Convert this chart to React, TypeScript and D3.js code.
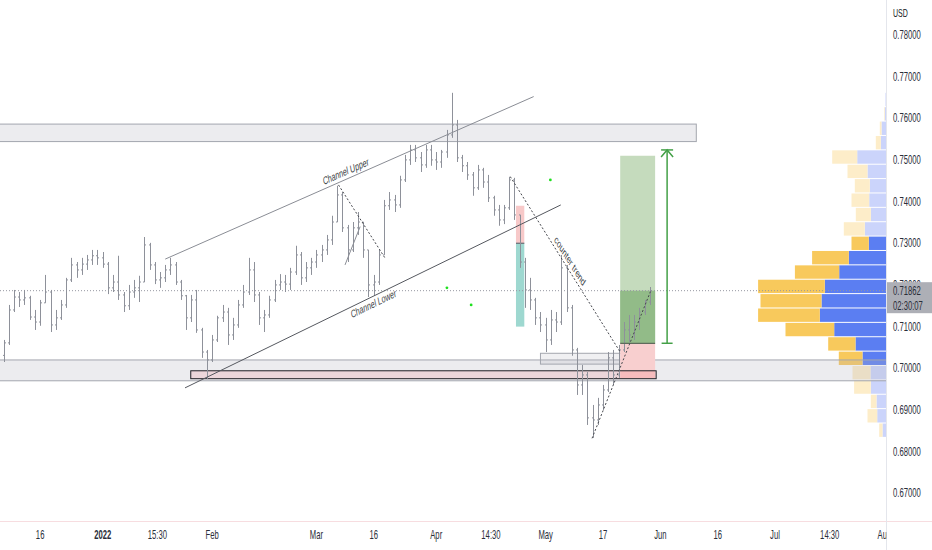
import React from 'react';
import * as d3 from 'd3';

// ---------- data ----------
const firstBar = -19; // trading-day index (0 = 3 Jan 2022)
const closes = [
  0.7061, 0.7140, 0.7171, 0.7164, 0.7169, 0.7123, 0.7111, 0.7157, 0.7183, 0.7104,
  0.7121, 0.7152, 0.7212, 0.7248, 0.7236, 0.7250, 0.7260, 0.7270, 0.7265, 0.7250,
  0.7193, 0.7207, 0.7176, 0.7150, 0.7183, 0.7193, 0.7207, 0.7296, 0.7248, 0.7212,
  0.7217, 0.7236, 0.7248, 0.7207, 0.7174, 0.7121, 0.7164, 0.7092, 0.7039, 0.7020,
  0.7068, 0.7121, 0.7135, 0.7080, 0.7104, 0.7152, 0.7183, 0.7236, 0.7176, 0.7121,
  0.7128, 0.7164, 0.7200, 0.7207, 0.7202, 0.7231, 0.7272, 0.7217, 0.7241, 0.7255,
  0.7272, 0.7284, 0.7308, 0.7351, 0.7416, 0.7337, 0.7284, 0.7337, 0.7351, 0.7284,
  0.7200, 0.7207, 0.7272, 0.7390, 0.7404, 0.7392, 0.7452, 0.7500, 0.7524, 0.7505,
  0.7488, 0.7524, 0.7500, 0.7495, 0.7519, 0.7560, 0.7584, 0.7505, 0.7486, 0.7464,
  0.7433, 0.7476, 0.7447, 0.7409, 0.7380, 0.7356, 0.7385, 0.7452, 0.7368, 0.7255,
  0.7188, 0.7164, 0.7121, 0.7104, 0.7068, 0.7116, 0.7111, 0.7241, 0.7145, 0.7044,
  0.6960, 0.6984, 0.6881, 0.6876, 0.6912, 0.6948, 0.7025, 0.6984, 0.7044, 0.7092,
  0.7080, 0.7111, 0.7135, 0.7159, 0.7186,
];
const highs = [
  0.7068, 0.7152, 0.7188, 0.7183, 0.7188, 0.7174, 0.7140, 0.7164, 0.7224, 0.7188,
  0.7140, 0.7164, 0.7217, 0.7265, 0.7255, 0.7265, 0.7272, 0.7284, 0.7284, 0.7279,
  0.7255, 0.7224, 0.7270, 0.7183, 0.7200, 0.7212, 0.7222, 0.7315, 0.7301, 0.7255,
  0.7231, 0.7248, 0.7265, 0.7255, 0.7212, 0.7176, 0.7176, 0.7188, 0.7097, 0.7044,
  0.7080, 0.7126, 0.7152, 0.7145, 0.7121, 0.7164, 0.7200, 0.7265, 0.7255, 0.7183,
  0.7140, 0.7174, 0.7212, 0.7226, 0.7224, 0.7241, 0.7294, 0.7279, 0.7255, 0.7265,
  0.7284, 0.7296, 0.7320, 0.7366, 0.7438, 0.7423, 0.7344, 0.7351, 0.7375, 0.7344,
  0.7284, 0.7224, 0.7284, 0.7404, 0.7423, 0.7416, 0.7462, 0.7512, 0.7536, 0.7536,
  0.7519, 0.7536, 0.7536, 0.7519, 0.7524, 0.7572, 0.7661, 0.7596, 0.7512, 0.7495,
  0.7471, 0.7488, 0.7481, 0.7464, 0.7414, 0.7392, 0.7392, 0.7459, 0.7457, 0.7368,
  0.7265, 0.7217, 0.7169, 0.7135, 0.7121, 0.7140, 0.7135, 0.7272, 0.7248, 0.7152,
  0.7049, 0.7008, 0.6991, 0.6912, 0.6929, 0.6960, 0.7039, 0.7044, 0.7056, 0.7111,
  0.7128, 0.7128, 0.7145, 0.7164, 0.7195,
];
const lows = [
  0.7015, 0.7056, 0.7135, 0.7147, 0.7152, 0.7116, 0.7092, 0.7102, 0.7164, 0.7087,
  0.7092, 0.7116, 0.7145, 0.7207, 0.7217, 0.7224, 0.7236, 0.7248, 0.7248, 0.7241,
  0.7178, 0.7183, 0.7164, 0.7135, 0.7140, 0.7169, 0.7159, 0.7207, 0.7236, 0.7202,
  0.7193, 0.7207, 0.7224, 0.7200, 0.7164, 0.7092, 0.7111, 0.7085, 0.7025, 0.6974,
  0.7015, 0.7063, 0.7111, 0.7056, 0.7068, 0.7097, 0.7145, 0.7176, 0.7159, 0.7104,
  0.7087, 0.7121, 0.7159, 0.7188, 0.7183, 0.7188, 0.7224, 0.7200, 0.7207, 0.7224,
  0.7241, 0.7255, 0.7272, 0.7296, 0.7356, 0.7327, 0.7255, 0.7279, 0.7320, 0.7265,
  0.7171, 0.7174, 0.7200, 0.7272, 0.7380, 0.7375, 0.7385, 0.7447, 0.7488, 0.7495,
  0.7471, 0.7481, 0.7486, 0.7476, 0.7481, 0.7505, 0.7553, 0.7495, 0.7471, 0.7452,
  0.7414, 0.7428, 0.7433, 0.7399, 0.7366, 0.7342, 0.7346, 0.7380, 0.7356, 0.7241,
  0.7145, 0.7140, 0.7104, 0.7087, 0.7039, 0.7056, 0.7087, 0.7104, 0.7135, 0.7030,
  0.6936, 0.6936, 0.6864, 0.6833, 0.6864, 0.6900, 0.6943, 0.6960, 0.6977, 0.7039,
  0.7063, 0.7068, 0.7092, 0.7128, 0.7152,
];
const lastPrice = 0.71862;
const lastPriceLabel = '0.71862';
const countdownLabel = '02:30:07';

const priceTicks = [0.67, 0.68, 0.69, 0.70, 0.71, 0.72, 0.73, 0.74, 0.75, 0.76, 0.77, 0.78];
const timeTickLabels = ['16', '2022', '15:30', 'Feb', 'Mar', '16', 'Apr', '14:30', 'May', '17', 'Jun', '16', 'Jul', '14:30', 'Aug'];
const timeTickIndex = [-12, 0, 10.5, 21, 41, 52, 64, 74.5, 85, 96, 107, 118, 129, 139.5, 150];

// volume profile (top row first), 24 rows between profileLow and profileHigh
const profileHigh = 0.7661;
const profileLow = 0.6833;
const vpUp = [10, 17, 50, 57, 293, 190, 167, 173, 157, 217, 177, 377, 473, 617, 650, 667, 523, 310, 240, 160, 157, 100, 93, 40];
const vpDown = [0, 7, 17, 50, 250, 200, 150, 177, 150, 210, 173, 367, 443, 667, 610, 617, 487, 273, 237, 180, 167, 57, 97, 33];
const valueAreaRows = [10, 18]; // inclusive

// drawings: [index, price]
const channelUpper = [[12.0, 0.7262], [82.7, 0.7652]];
const channelLower = [[15.8, 0.6953], [87.9, 0.7392]];
const dottedTrend1 = [[45.25, 0.7440], [54.2, 0.7264]];
const solidTrend1 = [[46.5, 0.7248], [49.4, 0.7340]];
const counterTrend = [[78.2, 0.7460], [99.3, 0.7039]];
const dottedTrend2 = [[93.9, 0.6832], [105.1, 0.7184]];

// zones: [startIndex, endIndex, topPrice, bottomPrice]
const zoneTop = [-20, 113.9, 0.7586, 0.7544];
const zoneBottom = [-20, 151, 0.7020, 0.6970];
const blackBox = [16.9, 106.2, 0.6994, 0.6975];
const smallBox = [84.0, 101.2, 0.7036, 0.7010];

// short position tool: [start, end, stop, entry, target]
const shortPos = [79.3, 80.9, 0.7390, 0.7300, 0.7100];
// long position tool: [start, end, target, entry, stop]
const longPos = [99.3, 106.0, 0.7510, 0.7060, 0.6976];
// price-range measure: [index, fromPrice, toPrice]
const measure = [108.3, 0.7060, 0.7524];
// dots [index, price]
const greenDots = [[85.9, 0.7452], [66.05, 0.7193], [70.7, 0.7152]];

// ---------- layout ----------
const W = 932;
const H = 550;
const PLOT_R = 886.5;
const TIME_AXIS_Y = 521.5;
const SX = 0.64; // horizontal squeeze of text

const x = d3.scaleLinear().domain([-19.7, 150.3]).range([0, 886]);
const y = d3.scaleLinear().domain([0.67, 0.78]).range([493.3, 34.9]);
const vw = d3.scaleLinear().domain([0, 1284]).range([0, 128.4]);

const FONT = '"Liberation Sans", Arial, sans-serif';

function SText(props: any) {
  const { x: tx, y: ty, anchor = 'start', size = 12, fill = '#131722', weight = 'normal', children } = props;
  return (
    <text
      transform={`translate(${tx},${ty}) scale(${SX},1)`}
      textAnchor={anchor}
      fontSize={size}
      fontFamily={FONT}
      fill={fill}
      fontWeight={weight}
      dominantBaseline="central"
    >
      {children}
    </text>
  );
}

function lineAngle(seg: number[][]) {
  const dx = (x(seg[1][0]) - x(seg[0][0])) / SX;
  const dy = y(seg[1][1]) - y(seg[0][1]);
  return (Math.atan2(dy, dx) * 180) / Math.PI;
}
function pointOn(seg: number[][], idx: number) {
  const t = (idx - seg[0][0]) / (seg[1][0] - seg[0][0]);
  const p = seg[0][1] + t * (seg[1][1] - seg[0][1]);
  return [x(idx), y(p)];
}

function RotLabel({ seg, idx, text, dy, size }: any) {
  const [px, py] = pointOn(seg, idx);
  const a = lineAngle(seg);
  return (
    <text
      transform={`translate(${px},${py}) scale(${SX},1) rotate(${a})`}
      y={dy}
      textAnchor="middle"
      fontSize={size}
      fontFamily={FONT}
      fill="#3d3f46"
    >
      {text}
    </text>
  );
}

function Seg({ seg, dash, color = '#7f828b', width = 1 }: any) {
  return (
    <line
      x1={x(seg[0][0])}
      y1={y(seg[0][1])}
      x2={x(seg[1][0])}
      y2={y(seg[1][1])}
      stroke={color}
      strokeWidth={width}
      strokeDasharray={dash}
    />
  );
}

function Zone({ z, fill, stroke }: any) {
  return (
    <rect
      x={x(z[0])}
      y={y(z[2])}
      width={x(z[1]) - x(z[0])}
      height={y(z[3]) - y(z[2])}
      fill={fill}
      stroke={stroke}
      strokeWidth={1}
    />
  );
}

export default function App() {
  const rowH = (profileHigh - profileLow) / vpUp.length;
  const bars = closes.map((c, k) => {
    const idx = firstBar + k;
    const o = k === 0 ? lows[0] + (highs[0] - lows[0]) * 0.3 : closes[k - 1];
    const hi = Math.max(highs[k], o, c);
    const lo = Math.min(lows[k], o, c);
    return { idx, o, c, hi, lo };
  });

  return (
    <svg
      width={W}
      height={H}
      style={{ position: 'fixed', left: 0, top: 0, background: '#ffffff' }}
    >
      <defs>
        <clipPath id="plot">
          <rect x={0} y={0} width={PLOT_R} height={TIME_AXIS_Y} />
        </clipPath>
        <clipPath id="taxis">
          <rect x={0} y={TIME_AXIS_Y} width={PLOT_R} height={H - TIME_AXIS_Y} />
        </clipPath>
      </defs>
      <rect x={0} y={0} width={W} height={H} fill="#ffffff" />

      <g clipPath="url(#plot)">
        {/* volume profile */}
        {vpUp.map((u, k) => {
          const inVA = k >= valueAreaRows[0] && k <= valueAreaRows[1];
          const top = y(profileHigh - rowH * k);
          const bot = y(profileHigh - rowH * (k + 1));
          const h = bot - top - 1;
          const wu = vw(u);
          const wd = vw(vpDown[k]);
          return (
            <g key={'vp' + k}>
              <rect x={PLOT_R - wu} y={top} width={wu} height={h} fill={inVA ? '#5b7ef2' : '#cbd4fb'} />
              <rect x={PLOT_R - wu - wd} y={top} width={wd} height={h} fill={inVA ? '#f8c95c' : '#fdedc9'} />
            </g>
          );
        })}

        {/* zones */}
        <Zone z={zoneTop} fill="rgba(178,181,190,0.25)" stroke="#a3a6ae" />
        <Zone z={zoneBottom} fill="rgba(178,181,190,0.25)" stroke="#a3a6ae" />
        <Zone z={smallBox} fill="rgba(178,181,190,0.2)" stroke="#a3a6ae" />

        {/* short position tool */}
        <rect x={x(shortPos[0])} y={y(shortPos[2])} width={x(shortPos[1]) - x(shortPos[0])} height={y(shortPos[3]) - y(shortPos[2])} fill="#f7c9c9" />
        <rect x={x(shortPos[0])} y={y(shortPos[3])} width={x(shortPos[1]) - x(shortPos[0])} height={y(shortPos[4]) - y(shortPos[3])} fill="#9ed8d0" />
        <line x1={x(shortPos[0])} x2={x(shortPos[1])} y1={y(shortPos[3])} y2={y(shortPos[3])} stroke="#666a72" strokeWidth={1.2} />

        {/* long position tool */}
        <rect x={x(longPos[0])} y={y(longPos[2])} width={x(longPos[1]) - x(longPos[0])} height={y(longPos[3]) - y(longPos[2])} fill="#c5dbbd" />
        <rect x={x(longPos[0])} y={y(lastPrice)} width={x(longPos[1]) - x(longPos[0])} height={y(longPos[3]) - y(lastPrice)} fill="#92bb88" />
        <rect x={x(longPos[0])} y={y(longPos[3])} width={x(longPos[1]) - x(longPos[0])} height={y(longPos[4]) - y(longPos[3])} fill="#f8cfcf" />

        {/* black box */}
        <Zone z={blackBox} fill="rgba(242,54,69,0.12)" stroke="#1e1f24" />

        {/* current price dotted line */}
        <line x1={0} x2={PLOT_R} y1={y(lastPrice)} y2={y(lastPrice)} stroke="#9598a1" strokeWidth={1} strokeDasharray="1,2" />

        {/* price bars */}
        <g stroke="#8e919a" strokeWidth={1}>
          {bars.map((b) => {
            const cx = Math.round(x(b.idx)) + 0.5;
            return (
              <g key={'b' + b.idx}>
                <line x1={cx} x2={cx} y1={y(b.hi)} y2={y(b.lo)} />
                <line x1={cx - 1.5} x2={cx} y1={y(b.o)} y2={y(b.o)} />
                <line x1={cx} x2={cx + 1.5} y1={y(b.c)} y2={y(b.c)} />
              </g>
            );
          })}
        </g>

        {/* long position entry line (over bars) */}
        <line x1={x(longPos[0])} x2={x(longPos[1])} y1={y(longPos[3])} y2={y(longPos[3])} stroke="#5f6b5c" strokeWidth={1.2} />

        {/* trend lines */}
        <Seg seg={channelUpper} color="#8a8d95" />
        <Seg seg={channelLower} color="#55585f" />
        <Seg seg={dottedTrend1} color="#45474d" dash="2,2" />
        <Seg seg={solidTrend1} color="#8a8d95" />
        <Seg seg={counterTrend} color="#45474d" dash="2,2" />
        <Seg seg={dottedTrend2} color="#45474d" dash="2,2" />

        <RotLabel seg={channelUpper} idx={46.9} text="Channel Upper" dy={-4} size={11} />
        <RotLabel seg={channelLower} idx={51.7} text="Channel Lower" dy={11} size={11} />
        <RotLabel seg={counterTrend} idx={89.0} text="counter trend" dy={-4} size={11} />

        {/* measure arrow */}
        <g stroke="#43a047" strokeWidth={1.5} fill="none">
          <line x1={x(measure[0])} x2={x(measure[0])} y1={y(measure[2])} y2={y(measure[1])} />
          <line x1={x(measure[0]) - 6} x2={x(measure[0]) + 6} y1={y(measure[2])} y2={y(measure[2])} />
          <polyline points={`${x(measure[0]) - 6},${y(measure[2]) + 7} ${x(measure[0])},${y(measure[2])} ${x(measure[0]) + 6},${y(measure[2]) + 7}`} />
          <line x1={x(measure[0]) - 5.5} x2={x(measure[0]) + 5.5} y1={y(measure[1])} y2={y(measure[1])} />
        </g>

        {/* green dots */}
        {greenDots.map((d, k) => (
          <circle key={'gd' + k} cx={x(d[0])} cy={y(d[1])} r={1.4} fill="#1fe01f" />
        ))}
      </g>

      {/* axes frames */}
      <line x1={0} x2={W} y1={TIME_AXIS_Y} y2={TIME_AXIS_Y} stroke="#f7dde0" strokeWidth={1} />
      <line x1={PLOT_R} x2={PLOT_R} y1={0} y2={H} stroke="#e4e6ec" strokeWidth={1} />

      {/* price axis */}
      <SText x={893} y={13} size={11}>USD</SText>
      {priceTicks.map((p) => (
        <SText key={'pt' + p} x={893} y={y(p)} size={12} fill="#2a2e39">
          {d3.format('.5f')(p)}
        </SText>
      ))}
      <rect x={PLOT_R + 0.5} y={y(lastPrice) - 8.5} width={W - PLOT_R} height={31} fill="#adafb6" />
      <SText x={893} y={y(lastPrice) + 0.5} size={12} fill="#2a2e39">{lastPriceLabel}</SText>
      <SText x={893} y={y(lastPrice) + 15} size={12} fill="#2a2e39">{countdownLabel}</SText>

      {/* time axis */}
      <g clipPath="url(#taxis)">
        {timeTickLabels.map((t, k) => (
          <SText
            key={'tt' + k}
            x={x(timeTickIndex[k])}
            y={535}
            anchor="middle"
            size={12}
            fill="#2a2e39"
            weight={t === '2022' ? 'bold' : 'normal'}
          >
            {t}
          </SText>
        ))}
      </g>
    </svg>
  );
}
